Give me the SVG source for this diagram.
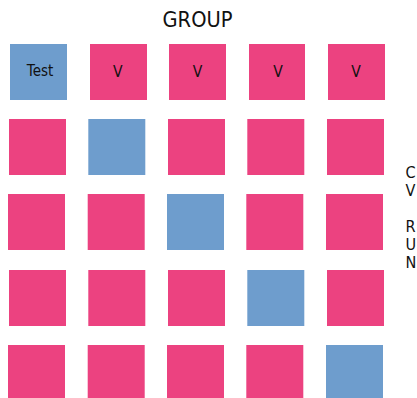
<svg xmlns="http://www.w3.org/2000/svg" width="417" height="398" viewBox="0 0 417 398">
<style>
.p{fill:#EC4280}
.b{fill:#6E9DCD}
text{font-family:"DejaVu Sans",sans-serif;fill:#111}
.t{font-size:19.5px;text-anchor:middle}
.c{font-size:14px;text-anchor:middle}
.ct{font-size:13.5px;text-anchor:middle}
.r{font-size:14.5px}
</style>
<rect width="417" height="398" fill="#fff"/>
<text class="t" transform="translate(197.5,26.5) scale(1,1.12)">GROUP</text>
<g id="r1c1"><rect class="b" x="10" y="44" width="57" height="56"/><text class="ct" transform="translate(40,76) scale(1,1.12)">Test</text></g>
<g id="r1c2"><rect class="p" x="90" y="44" width="57" height="56"/><text class="c" transform="translate(117.7,76.7) scale(1,1.12)">V</text></g>
<g id="r1c3"><rect class="p" x="169" y="44" width="57" height="56"/><text class="c" transform="translate(197.5,76.7) scale(1,1.12)">V</text></g>
<g id="r1c4"><rect class="p" x="249" y="44" width="56" height="56"/><text class="c" transform="translate(278,76.7) scale(1,1.12)">V</text></g>
<g id="r1c5"><rect class="p" x="328" y="44" width="57" height="56"/><text class="c" transform="translate(356,76.7) scale(1,1.12)">V</text></g>

<g id="r2c1"><rect class="p" x="9" y="119" width="57" height="56"/></g>
<g id="r2c2"><rect class="b" x="88.3" y="119" width="57" height="56"/></g>
<g id="r2c3"><rect class="p" x="168" y="119" width="57" height="56"/></g>
<g id="r2c4"><rect class="p" x="247.3" y="119" width="57" height="56"/></g>
<g id="r2c5"><rect class="p" x="327" y="119" width="57" height="56"/></g>

<g id="r3c1"><rect class="p" x="8" y="194" width="57" height="56"/></g>
<g id="r3c2"><rect class="p" x="87.7" y="194" width="57" height="56"/></g>
<g id="r3c3"><rect class="b" x="167" y="194" width="57" height="56"/></g>
<g id="r3c4"><rect class="p" x="246.3" y="194" width="57" height="56"/></g>
<g id="r3c5"><rect class="p" x="326" y="194" width="57" height="56"/></g>

<g id="r4c1"><rect class="p" x="9" y="270" width="57" height="56"/></g>
<g id="r4c2"><rect class="p" x="88.3" y="270" width="57" height="56"/></g>
<g id="r4c3"><rect class="p" x="168" y="270" width="57" height="56"/></g>
<g id="r4c4"><rect class="b" x="247.3" y="270" width="57" height="56"/></g>
<g id="r4c5"><rect class="p" x="327" y="270" width="57" height="56"/></g>

<g id="r5c1"><rect class="p" x="8" y="345" width="57" height="53"/></g>
<g id="r5c2"><rect class="p" x="87.7" y="345" width="57" height="53"/></g>
<g id="r5c3"><rect class="p" x="167" y="345" width="57" height="53"/></g>
<g id="r5c4"><rect class="p" x="246.3" y="345" width="57" height="53"/></g>
<g id="r5c5"><rect class="b" x="326" y="345" width="57" height="53"/></g>

<g id="side-label">
<text class="r" transform="translate(405.5,178) scale(1,1.12)">C</text>
<text class="r" transform="translate(405.5,195.5) scale(1,1.12)">V</text>
<text class="r" transform="translate(405.5,231.5) scale(1,1.12)">R</text>
<text class="r" transform="translate(405.5,249.5) scale(1,1.12)">U</text>
<text class="r" transform="translate(405.5,267.5) scale(1,1.12)">N</text>
</g>
</svg>
